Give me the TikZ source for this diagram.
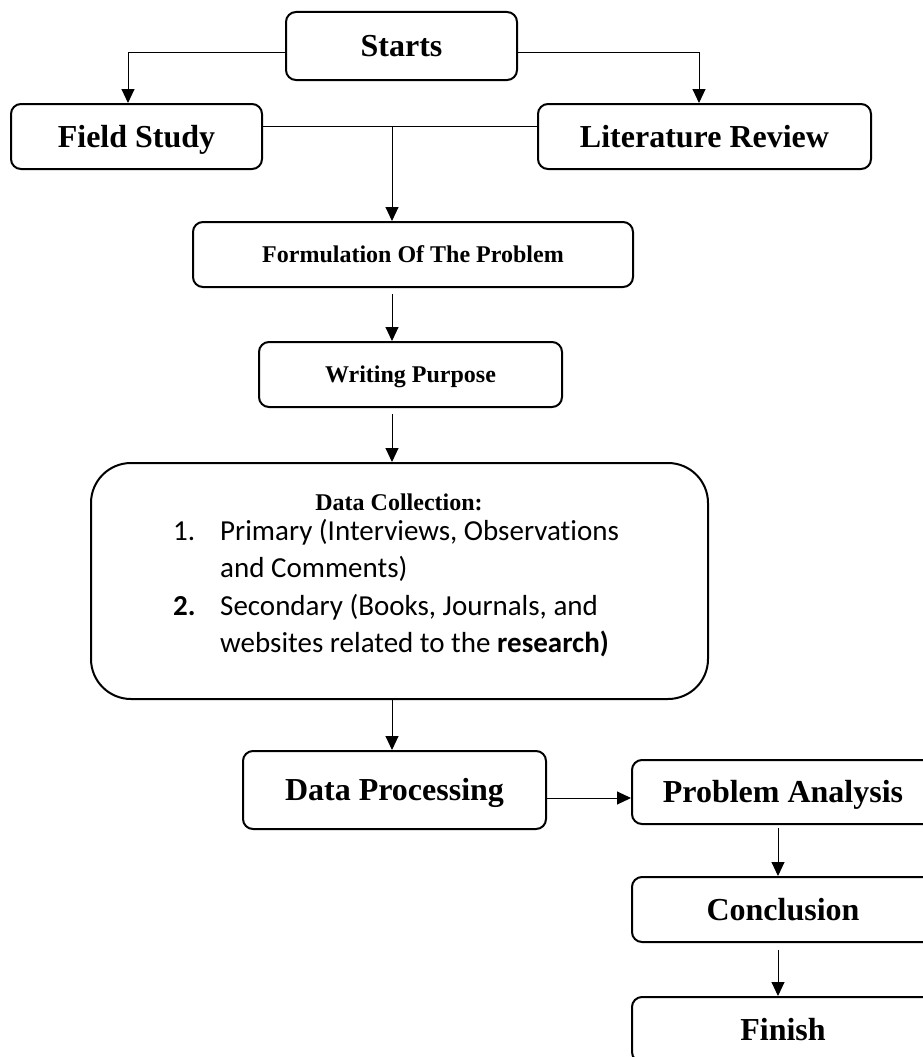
\documentclass[tikz,border=0pt]{standalone}
\usepackage{fontspec}
\setmainfont{Liberation Serif}
\newfontfamily\calibrifont[Ligatures=NoCommon]{Carlito}
\usetikzlibrary{arrows.meta}
\begin{document}
\begin{tikzpicture}[x=1pt,y=-1pt,
  box/.style={draw, line width=2pt, rounded corners=10pt, inner sep=0pt, align=center, text depth=0pt},
  big/.style={font=\fontsize{32}{38}\selectfont\bfseries, text height=21pt},
  mid/.style={font=\fontsize{24}{29}\selectfont\bfseries, text height=16pt},
  conn/.style={line width=1pt},
  arr/.style={line width=1pt, -{Triangle[length=14pt,width=13pt]}},
  body/.style={font=\calibrifont\fontsize{29}{35}\selectfont, anchor=base west, inner sep=0pt}]
\useasboundingbox (0,0) rectangle (923,1057);
\clip (0,0) rectangle (923,1057);
% boxes
\node[box,big,minimum width=231pt,minimum height=68pt] (st) at (401.5,46) {Starts};
\node[box,big,minimum width=251pt,minimum height=65pt] (fs) at (136.5,136.5) {Field Study};
\node[box,big,minimum width=333pt,minimum height=65pt] (lr) at (704.5,136.5) {Literature Review};
\node[box,mid,minimum width=440pt,minimum height=65pt] (form) at (413,254.5) {Formulation Of The Problem};
\node[box,mid,minimum width=303pt,minimum height=65pt] (wp) at (410.5,374.5) {Writing Purpose};
\node[box,rounded corners=40pt,minimum width=617pt,minimum height=236pt] (dc) at (399.5,581) {};
\node[box,big,minimum width=303pt,minimum height=78pt] (dp) at (394.5,790) {Data Processing};
\node[box,big,minimum width=302pt,minimum height=64pt] (pa) at (783,792) {Problem Analysis};
\node[box,big,minimum width=302pt,minimum height=65pt] (cc) at (783,909.5) {Conclusion};
\node[box,big,minimum width=302pt,minimum height=65pt] (fn) at (783,1029.5) {Finish};
% data collection text
\node[font=\fontsize{24}{29}\selectfont\bfseries, anchor=base, inner sep=0pt] (dct) at (399,510) {Data Collection:};
\node[body] (n1) at (173,540) {1.};
\node[body] (l1) at (220,540) {Primary (Interviews, Observations};
\node[body] (l2) at (220,577) {and Comments)};
\node[body] (n2) at (173,615) {\bfseries 2.};
\node[body] (l3) at (220,615) {Secondary (Books, Journals, and};
\node[body] (l4) at (220,652) {websites related to the \textbf{research)}};
% connectors
\coordinate (j) at (392,126);
\coordinate (k) at (778,0);
\draw[arr] ([yshift=-7pt]st.west) -| ([xshift=-8.5pt]fs.north);
\draw[arr] ([yshift=-7pt]st.east) -| ([xshift=-5.5pt]lr.north);
\draw[conn] ([yshift=10.5pt]fs.east) -- ([yshift=10.5pt]lr.west);
\draw[arr] (j) -- (j |- form.north);
\draw[arr, shorten <=6pt] (form.south -| j) -- (wp.north -| j);
\draw[arr, shorten <=6pt] (wp.south -| j) -- (dc.north -| j);
\draw[arr] (dc.south -| j) -- (dp.north -| j);
\draw[arr] ([yshift=-8pt]dp.east) -- ([yshift=-8pt]dp.east -| pa.west);
\draw[arr, shorten <=3pt] (pa.south -| k) -- (cc.north -| k);
\draw[arr, shorten <=7pt] (cc.south -| k) -- (fn.north -| k);
\end{tikzpicture}
\end{document}
